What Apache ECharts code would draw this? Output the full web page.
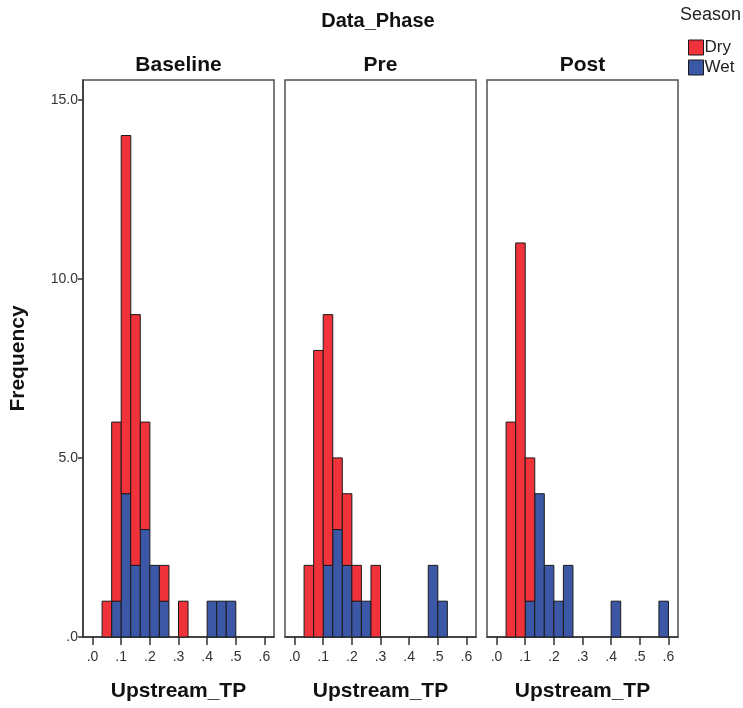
<!DOCTYPE html>
<html>
<head>
<meta charset="utf-8">
<script src="https://cdn.jsdelivr.net/npm/echarts@6/dist/echarts.min.js"></script>
<style>html,body{margin:0;padding:0;background:#fff}#c{width:743px;height:708px}</style>
</head>
<body>
<div id="c"></div>
<script>
// Bin lower edges (bin width 1/30) for Upstream_TP
const binLow = [0.0333, 0.0667, 0.1, 0.1333, 0.1667, 0.2, 0.2333, 0.2667, 0.3, 0.3333, 0.3667, 0.4, 0.4333, 0.4667, 0.5, 0.5333, 0.5667];
const binWidth = 1 / 30;
const phases = ['Baseline', 'Pre', 'Post'];
const baselineDry = [1, 5, 10, 7, 3, 0, 1, 0, 1, 0, 0, 0, 0, 0, 0, 0, 0];
const baselineWet = [0, 1, 4, 2, 3, 2, 1, 0, 0, 0, 0, 1, 1, 1, 0, 0, 0];
const preDry = [2, 8, 7, 2, 2, 1, 0, 2, 0, 0, 0, 0, 0, 0, 0, 0, 0];
const preWet = [0, 0, 2, 3, 2, 1, 1, 0, 0, 0, 0, 0, 0, 2, 1, 0, 0];
const postDry = [6, 11, 4, 0, 0, 0, 0, 0, 0, 0, 0, 0, 0, 0, 0, 0, 0];
const postWet = [0, 0, 1, 4, 2, 1, 2, 0, 0, 0, 0, 1, 0, 0, 0, 0, 1];
const xTicks = [0, 0.1, 0.2, 0.3, 0.4, 0.5, 0.6];
const yTicks = [0, 5, 10, 15];

const dryData = [baselineDry, preDry, postDry];
const wetData = [baselineWet, preWet, postWet];
const RED = '#F0333B', BLUE = '#3D57A7';
const FONT = 'Liberation Sans, Arial, sans-serif';

const panelLeft = [83, 285, 487];
const panelWidth = 191;
const panelTop = 80, panelHeight = 557;

function renderItem(params, api) {
  const x0 = api.value(0), x1 = api.value(1), y0 = api.value(2), y1 = api.value(3);
  if (y1 <= y0) return null;
  const p0 = api.coord([x0, y0]);
  const p1 = api.coord([x1, y1]);
  return {
    type: 'rect',
    shape: { x: p0[0], y: p1[1], width: p1[0] - p0[0], height: p0[1] - p1[1] },
    style: { fill: api.visual('color'), stroke: '#1a1a1a', lineWidth: 1 }
  };
}

const grids = [], xAxes = [], yAxes = [], series = [], titles = [];
titles.push({ text: 'Data_Phase', left: 378, top: 11, textAlign: 'center', padding: 0,
  textStyle: { fontFamily: FONT, fontSize: 20, fontWeight: 'bold', color: '#111' } });
titles.push({ text: 'Season', left: 680, top: 6, padding: 0,
  textStyle: { fontFamily: FONT, fontSize: 18, fontWeight: 'normal', color: '#222' } });

phases.forEach((ph, i) => {
  grids.push({ left: panelLeft[i], top: panelTop, width: panelWidth, height: panelHeight,
    show: true, borderColor: '#505050', borderWidth: 1.5, backgroundColor: 'transparent', containLabel: false });
  titles.push({ text: ph, left: panelLeft[i] + panelWidth / 2, top: 55, textAlign: 'center', padding: 0,
    textStyle: { fontFamily: FONT, fontSize: 21, fontWeight: 'bold', color: '#111' } });
  xAxes.push({
    type: 'value', gridIndex: i, min: -1 / 30, max: 0.6 + 1 / 30,
    name: 'Upstream_TP', nameLocation: 'middle', nameGap: 44,
    nameTextStyle: { fontFamily: FONT, fontSize: 21, fontWeight: 'bold', color: '#111' },
    axisLine: { show: true, onZero: false, lineStyle: { color: '#333', width: 1.5 } },
    axisTick: { show: true, length: 8, lineStyle: { color: '#333', width: 1.5 }, customValues: xTicks },
    axisLabel: { fontFamily: FONT, fontSize: 14, color: '#333', margin: 13, customValues: xTicks,
      formatter: v => '.' + Math.round(v * 10) },
    splitLine: { show: false }
  });
  yAxes.push({
    type: 'value', gridIndex: i, min: 0, max: 15.55,
    name: i === 0 ? 'Frequency' : '', nameLocation: 'middle', nameGap: 54, nameRotate: 90,
    nameTextStyle: { fontFamily: FONT, fontSize: 21, fontWeight: 'bold', color: '#111' },
    axisLine: { show: i === 0, onZero: false, lineStyle: { color: '#333', width: 1.5 } },
    axisTick: { show: i === 0, length: 5, lineStyle: { color: '#333', width: 1.5 }, customValues: yTicks },
    axisLabel: { show: i === 0, fontFamily: FONT, fontSize: 14, color: '#333', margin: 5, customValues: yTicks,
      formatter: v => v === 0 ? '.0' : v.toFixed(1) },
    splitLine: { show: false }
  });
  const wet = wetData[i], dry = dryData[i];
  const wetItems = [], dryItems = [];
  binLow.forEach((lo, k) => {
    wetItems.push([lo, lo + binWidth, 0, wet[k]]);
    dryItems.push([lo, lo + binWidth, wet[k], wet[k] + dry[k]]);
  });
  series.push({ type: 'custom', name: 'Wet', xAxisIndex: i, yAxisIndex: i, renderItem,
    itemStyle: { color: BLUE }, encode: { x: [0, 1], y: [2, 3] }, data: wetItems, silent: true });
  series.push({ type: 'custom', name: 'Dry', xAxisIndex: i, yAxisIndex: i, renderItem,
    itemStyle: { color: RED }, encode: { x: [0, 1], y: [2, 3] }, data: dryItems, silent: true });
});

const chart = echarts.init(document.getElementById('c'), null, { renderer: 'canvas' });
chart.setOption({
  animation: false,
  backgroundColor: '#fff',
  title: titles,
  legend: {
    data: ['Dry', 'Wet'], orient: 'vertical', left: 688, top: 39, itemGap: 3, padding: 0,
    itemWidth: 15, itemHeight: 15, icon: 'rect', selectedMode: false,
    itemStyle: { borderColor: '#1a1a1a', borderWidth: 1 },
    textStyle: { fontFamily: FONT, fontSize: 17, color: '#222', padding: [0, 0, 0, -4] }
  },
  grid: grids, xAxis: xAxes, yAxis: yAxes, series
});
</script>
</body>
</html>
